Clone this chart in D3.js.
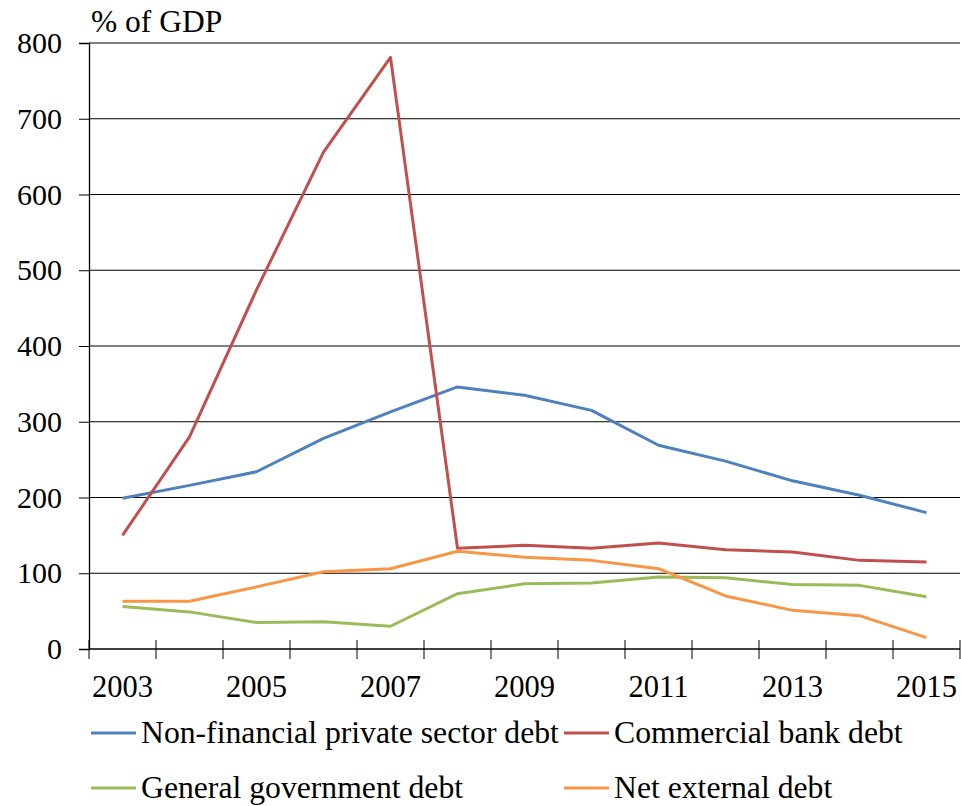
<!DOCTYPE html>
<meta charset="utf-8">
<script src="https://cdn.jsdelivr.net/npm/d3@7"></script>
<style>
body { margin: 0; background: #fff; }
text { font-family: "Liberation Serif", "Times New Roman", serif; fill: #000; }
</style>
<body>
<script>

var years = ["2003","2004","2005","2006","2007","2008","2009","2010","2011","2012","2013","2014","2015"];
var yTicks = [0, 100, 200, 300, 400, 500, 600, 700, 800];
var xLabels = ["2003","2005","2007","2009","2011","2013","2015"];

var privateDebt = [199, 216, 234, 278, 313, 346, 335, 315, 269, 248, 222, 203, 180];
var bankDebt = [150, 280, 474, 656, 781, 133, 137, 133, 140, 131, 128, 117, 115];
var govDebt = [56, 49, 35, 36, 30, 73, 86, 87, 95, 94, 85, 84, 69];
var externalDebt = [63, 63, 82, 102, 106, 129, 121, 117, 106, 70, 51, 44, 15];

var seriesNames = ["Non-financial private sector debt", "Commercial bank debt",
                   "General government debt", "Net external debt"];
var colors = ["#4F81BD", "#C0504D", "#9BBB59", "#F79646"];

var width = 961, height = 806;
var margin = {top: 43, right: 1, bottom: 157, left: 89};

var svg = d3.select("body").append("svg")
    .attr("width", width)
    .attr("height", height);

var x = d3.scaleBand()
    .domain(years)
    .range([margin.left, width - margin.right]);

var y = d3.scaleLinear()
    .domain([0, 800])
    .range([height - margin.bottom, margin.top]);

// gridlines + y axis
var yAxis = svg.append("g")
    .attr("transform", "translate(" + margin.left + ",0)")
    .call(d3.axisLeft(y)
        .tickValues(yTicks)
        .tickSize(10)
        .tickPadding(17)
        .tickFormat(d3.format("d")));
yAxis.select(".domain").attr("stroke", "#000").attr("stroke-width", 1.3);
yAxis.selectAll(".tick line").attr("stroke", "#000");
yAxis.selectAll(".tick text")
    .style("font-size", "30px");

svg.append("g")
    .selectAll("line")
    .data(yTicks.filter(function(d) { return d > 0; }))
    .enter().append("line")
    .attr("x1", margin.left)
    .attr("x2", width - margin.right)
    .attr("y1", function(d) { return y(d); })
    .attr("y2", function(d) { return y(d); })
    .attr("stroke", "#000")
    .attr("stroke-width", 1);

// x axis: ticks at band edges, labels every other year
var xAxisG = svg.append("g")
    .attr("transform", "translate(0," + y(0) + ")");
xAxisG.append("line")
    .attr("x1", margin.left)
    .attr("x2", width - margin.right)
    .attr("stroke", "#000")
    .attr("stroke-width", 1.3);
xAxisG.selectAll(".xtick")
    .data(years.concat(["end"]))
    .enter().append("line")
    .attr("class", "xtick")
    .attr("x1", function(d, i) { return margin.left + i * x.bandwidth(); })
    .attr("x2", function(d, i) { return margin.left + i * x.bandwidth(); })
    .attr("y1", -9)
    .attr("y2", 10)
    .attr("stroke", "#000");
xAxisG.selectAll(".xlabel")
    .data(xLabels)
    .enter().append("text")
    .attr("class", "xlabel")
    .attr("x", function(d) { return x(d) + x.bandwidth() / 2; })
    .attr("y", 48)
    .attr("text-anchor", "middle")
    .style("font-size", "30.5px")
    .text(function(d) { return d; });

// unit label
svg.append("text")
    .attr("x", 91)
    .attr("y", 32)
    .style("font-size", "31.5px")
    .text("% of GDP");

// lines
var allSeries = [privateDebt, bankDebt, govDebt, externalDebt];
var line = d3.line()
    .x(function(d, i) { return x(years[i]) + x.bandwidth() / 2; })
    .y(function(d) { return y(d); });

svg.append("g")
    .selectAll("path")
    .data(allSeries)
    .enter().append("path")
    .attr("fill", "none")
    .attr("stroke", function(d, i) { return colors[i]; })
    .attr("stroke-width", 3)
    .attr("stroke-linejoin", "round")
    .attr("d", line);

// legend
var legendPos = [[91, 733], [564, 733], [91, 788], [564, 788]];
var legend = svg.append("g")
    .selectAll("g")
    .data(seriesNames)
    .enter().append("g")
    .attr("transform", function(d, i) { return "translate(" + legendPos[i][0] + "," + legendPos[i][1] + ")"; });
legend.append("line")
    .attr("x1", 0)
    .attr("x2", 45)
    .attr("stroke", function(d, i) { return colors[i]; })
    .attr("stroke-width", 3);
legend.append("text")
    .attr("x", 50)
    .attr("y", 10)
    .style("font-size", "31.7px")
    .text(function(d) { return d; });

</script>
</body>
